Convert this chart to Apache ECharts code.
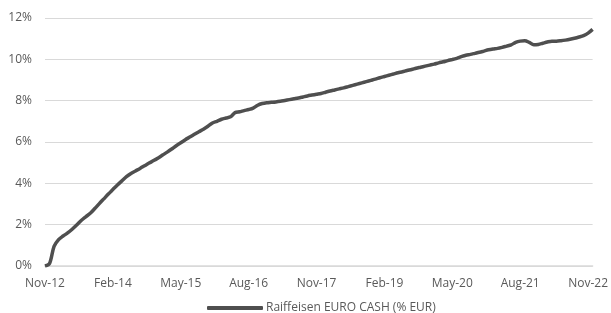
<!DOCTYPE html>
<html>
<head>
<meta charset="utf-8">
<script src="https://cdn.jsdelivr.net/npm/echarts@6/dist/echarts.min.js"></script>
<style>
  html, body { margin: 0; padding: 0; background: #fff; }
  #chart { width: 611px; height: 313px; }
</style>
</head>
<body>
<div id="chart"></div>
<script>
// monthly series, Nov-12 .. Dec-22 (cumulative performance in %)
const seriesName = 'Raiffeisen EURO CASH (% EUR)'
const values = [
  0.00, 0.12, 0.95, 1.28, 1.45, 1.60, 1.78, 1.98, 2.20, 2.38,
  2.55, 2.78, 3.02, 3.25, 3.48, 3.70, 3.92, 4.12, 4.32, 4.48,
  4.60, 4.72, 4.85, 4.98, 5.10, 5.23, 5.37, 5.51, 5.66, 5.82,
  5.96, 6.11, 6.24, 6.37, 6.50, 6.62, 6.76, 6.92, 7.00, 7.10,
  7.16, 7.22, 7.42, 7.46, 7.52, 7.57, 7.64, 7.78, 7.86, 7.90,
  7.92, 7.94, 7.97, 8.01, 8.05, 8.09, 8.13, 8.18, 8.23, 8.27,
  8.31, 8.35, 8.41, 8.47, 8.52, 8.57, 8.62, 8.68, 8.74, 8.80,
  8.86, 8.92, 8.98, 9.04, 9.11, 9.17, 9.23, 9.29, 9.35, 9.40,
  9.46, 9.51, 9.57, 9.62, 9.67, 9.72, 9.77, 9.83, 9.88, 9.94,
  9.99, 10.05, 10.13, 10.20, 10.24, 10.29, 10.34, 10.40, 10.46, 10.50,
  10.53, 10.58, 10.64, 10.70, 10.82, 10.88, 10.90, 10.82, 10.70, 10.72,
  10.78, 10.84, 10.88, 10.88, 10.90, 10.93, 10.97, 11.02, 11.08, 11.15,
  11.27, 11.45
]
const monthNames = ['Jan', 'Feb', 'Mar', 'Apr', 'May', 'Jun', 'Jul', 'Aug', 'Sep', 'Oct', 'Nov', 'Dec']
const yTicks = [0, 2, 4, 6, 8, 10, 12]

// month labels starting Nov-12
const categories = []
for (let i = 0; i < values.length; i++) {
  const m = (10 + i) % 12
  const y = 12 + Math.floor((10 + i) / 12)
  categories.push(monthNames[m] + '-' + y)
}

const textColor = '#595959'
const fontFamily = '"Open Sans", "Noto Sans", sans-serif'

const myChart = echarts.init(document.getElementById('chart'))
myChart.setOption({
  animation: false,
  grid: { left: 45, right: 17, top: 18, bottom: 47 },
  legend: {
    data: [seriesName],
    left: 202,
    top: 297,
    icon: 'roundRect',
    itemWidth: 56,
    itemHeight: 4,
    textStyle: { color: textColor, fontSize: 12, fontFamily: fontFamily, padding: [0, 0, 0, -2] }
  },
  xAxis: {
    type: 'category',
    data: categories,
    boundaryGap: false,
    axisLine: { lineStyle: { color: '#d9d9d9', width: 1.5 } },
    axisTick: { show: false },
    axisLabel: {
      interval: 14,
      margin: 12,
      color: textColor,
      fontSize: 12,
      fontFamily: fontFamily
    }
  },
  yAxis: {
    type: 'value',
    min: yTicks[0],
    max: yTicks[yTicks.length - 1],
    interval: 2,
    axisLine: { show: false },
    axisTick: { show: false },
    splitLine: { lineStyle: { color: '#d9d9d9', width: 1.2 } },
    axisLabel: {
      margin: 13,
      formatter: '{value}%',
      color: textColor,
      fontSize: 12,
      fontFamily: fontFamily
    }
  },
  series: [
    {
      name: seriesName,
      type: 'line',
      data: values,
      showSymbol: false,
      smooth: 0.3,
      lineStyle: { color: '#4f4f4f', width: 3.5 },
      itemStyle: { color: '#4f4f4f' }
    }
  ]
})
</script>
</body>
</html>
